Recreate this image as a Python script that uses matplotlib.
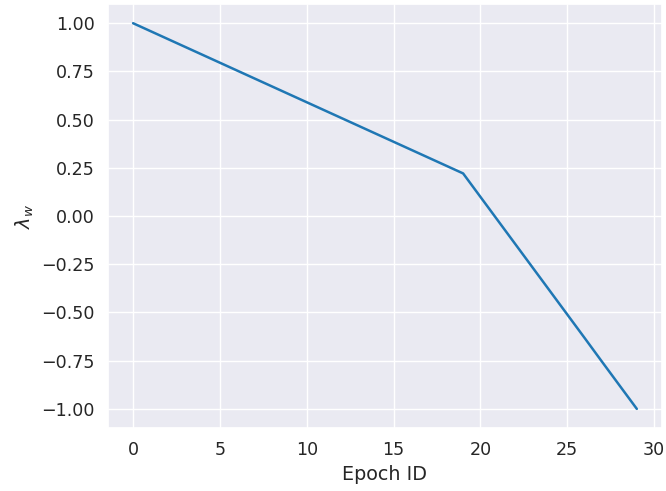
import matplotlib
matplotlib.use("Agg")
import matplotlib.pyplot as plt
import seaborn as sns

epochs = list(range(30))
lambda_w = [1.0, 0.959, 0.918, 0.877, 0.836, 0.795, 0.754, 0.713, 0.672, 0.631,
            0.590, 0.549, 0.508, 0.467, 0.426, 0.385, 0.344, 0.303, 0.262, 0.221,
            0.099, -0.023, -0.145, -0.267, -0.389, -0.511, -0.633, -0.756, -0.878, -1.0]

sns.set_theme(style="darkgrid", font_scale=1.15)

fig, ax = plt.subplots(figsize=(6.66, 4.91), dpi=100)
fig.subplots_adjust(left=0.162, right=0.994, top=0.992, bottom=0.128)

ax.plot(epochs, lambda_w, color="#1f77b4", lw=1.8)
ax.set_xlabel("Epoch ID")
ax.set_ylabel(r"$\lambda_w$")
ax.set_yticks([1.0, 0.75, 0.5, 0.25, 0.0, -0.25, -0.5, -0.75, -1.0])
ax.set_xticks([0, 5, 10, 15, 20, 25, 30])

fig.savefig("out.png", dpi=100)
